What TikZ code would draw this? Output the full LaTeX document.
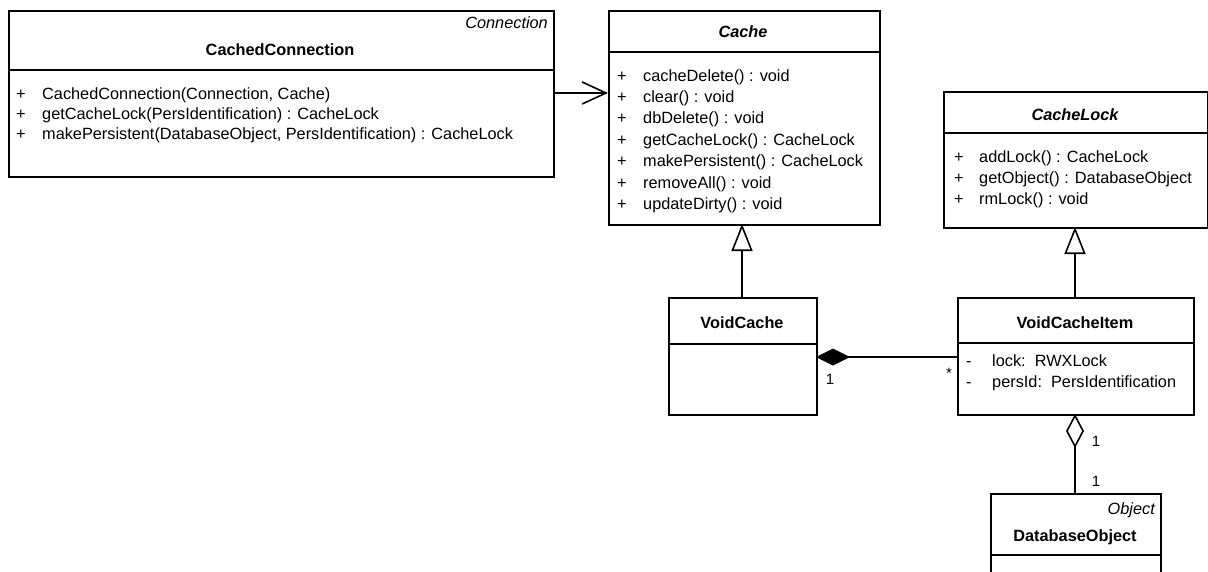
\documentclass[tikz,border=0pt]{standalone}
\usepackage{fontspec}
\setmainfont{Liberation Sans}
\usetikzlibrary{arrows.meta}
\begin{document}
\begin{tikzpicture}[x=1pt,y=-1pt,
  umlbox/.style={draw, line width=1.6pt, inner sep=0pt, anchor=north west, fill=white},
  divider/.style={line width=1.4pt},
  conn/.style={line width=1.6pt},
  txt/.style={inner sep=0pt, anchor=base west, font=\fontsize{16.3}{18}\selectfont},
  title/.style={inner sep=0pt, anchor=base, font=\fontsize{16.3}{18}\selectfont\bfseries},
  stereo/.style={inner sep=0pt, anchor=base east, font=\fontsize{16.3}{18}\selectfont\itshape},
  mult/.style={inner sep=0pt, anchor=base, font=\fontsize{15}{17}\selectfont},
]
\useasboundingbox (0,0) rectangle (1208,571);

% CachedConnection
\node[umlbox, minimum width=545pt, minimum height=166pt] (cc) at (8,10) {};
\draw[divider] (8,70) -- (553,70);
\node[stereo] (ccst) at (548,28) {Connection};
\node[title] (cct) at (280,55) {CachedConnection};
\foreach \y/\t [count=\i] in {99/{CachedConnection(Connection, Cache)},119/{getCacheLock(PersIdentification) : CacheLock},139/{makePersistent(DatabaseObject, PersIdentification) : CacheLock}}{
  \node[txt] (ccp\i) at (16,\y) {+};
  \node[txt] (ccm\i) at (42,\y) {\t};
}

% Cache
\node[umlbox, minimum width=271pt, minimum height=214pt] (cache) at (608,10) {};
\draw[divider] (608,52) -- (879,52);
\node[title, font=\fontsize{16.3}{18}\selectfont\bfseries\itshape] (cachet) at (743,37) {Cache};
\foreach \y/\t [count=\i] in {81/{cacheDelete() : void},102/{clear() : void},123/{dbDelete() : void},145/{getCacheLock() : CacheLock},166/{makePersistent() : CacheLock},188/{removeAll() : void},209/{updateDirty() : void}}{
  \node[txt] (cap\i) at (617,\y) {+};
  \node[txt] (cam\i) at (643,\y) {\t};
}

% CacheLock
\node[umlbox, minimum width=264pt, minimum height=136pt] (cl) at (943,91) {};
\draw[divider] (943,133) -- (1207,133);
\node[title, font=\fontsize{16.3}{18}\selectfont\bfseries\itshape] (clt) at (1075,120) {CacheLock};
\foreach \y/\t [count=\i] in {162/{addLock() : CacheLock},183/{getObject() : DatabaseObject},204/{rmLock() : void}}{
  \node[txt] (clp\i) at (954,\y) {+};
  \node[txt] (clm\i) at (979,\y) {\t};
}

% VoidCache
\node[umlbox, minimum width=148pt, minimum height=117pt] (vc) at (668,297) {};
\draw[divider] (668,344) -- (816,344);
\node[title] (vct) at (742,328) {VoidCache};

% VoidCacheItem
\node[umlbox, minimum width=236pt, minimum height=117pt] (vci) at (957,297) {};
\draw[divider] (957,343) -- (1193,343);
\node[title] (vcit) at (1075,328) {VoidCacheItem};
\node[txt] (vcip1) at (966,366) {-};
\node[txt] (vcim1) at (992,366) {lock:\ \ RWXLock};
\node[txt] (vcip2) at (966,387) {-};
\node[txt] (vcim2) at (992,387) {persId:\ \ PersIdentification};

% DatabaseObject
\node[umlbox, minimum width=170pt, minimum height=100pt] (dbo) at (990,493) {};
\draw[divider] (990,555) -- (1160,555);
\node[stereo] (dbost) at (1155,514) {Object};
\node[title] (dbot) at (1075,541) {DatabaseObject};

% connectors
\coordinate (ccA) at (553,93);
\coordinate (caA) at (608,93);
\draw[conn, -{Straight Barb[length=24pt,width=22pt,line width=1.6pt]}] (ccA) -- (caA);

\coordinate (vcTop) at (742,297);
\coordinate (caBot) at (742,224);
\draw[conn, -{Triangle[open,length=27pt,width=21pt,line width=1.6pt,fill=white]}] (vcTop) -- (caBot);

\coordinate (vciTop) at (1075,297);
\coordinate (clBot) at (1075,227);
\draw[conn, -{Triangle[open,length=27pt,width=21pt,line width=1.6pt,fill=white]}] (vciTop) -- (clBot);

\coordinate (vcR) at (816,357);
\coordinate (vciL) at (957,357);
\draw[conn, {Diamond[length=34pt,width=17pt]}-] (vcR) -- (vciL);
\node[mult] (m1) at (830,384) {1};
\node[mult] (m2) at (949,378) {*};

\coordinate (vciBot) at (1075,414);
\coordinate (dboTop) at (1075,493);
\draw[conn, {Diamond[open,length=34pt,width=18pt,line width=1.6pt,fill=white]}-] (vciBot) -- (dboTop);
\node[mult] (m3) at (1096,446) {1};
\node[mult] (m4) at (1096,486) {1};
\end{tikzpicture}
\end{document}
